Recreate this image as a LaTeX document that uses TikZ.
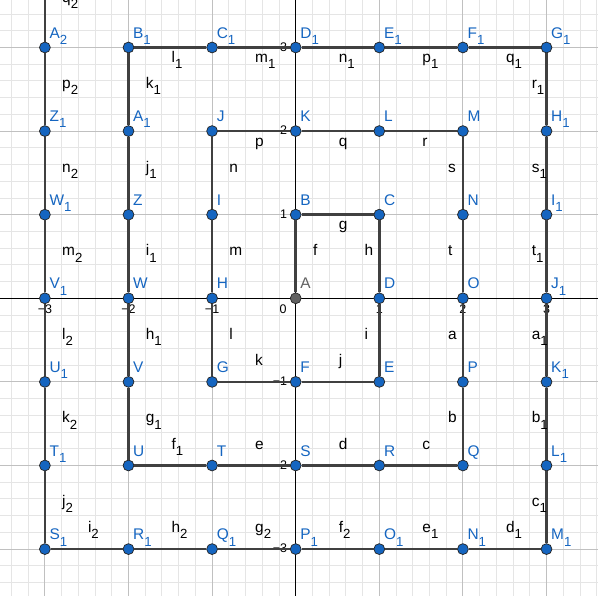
\documentclass[tikz,border=0pt]{standalone}
\usepackage{fontspec}
\setmainfont{Liberation Sans}
\usetikzlibrary{calc}
\definecolor{ggblue}{RGB}{21,101,192}
\definecolor{gggray}{RGB}{97,97,97}
\definecolor{segcol}{RGB}{64,64,64}
\definecolor{gridmaj}{RGB}{192,192,192}
\definecolor{gridmin}{RGB}{229,229,229}
\newcommand{\lowsub}[1]{\raisebox{-4.3pt}{\fontsize{9}{9}\selectfont #1}}

\begin{document}
\begin{tikzpicture}[x=2cm, y=2cm,
    every node/.style={font=\fontsize{10.5}{12}\selectfont, inner sep=0pt},
    minorgrid/.style={draw=gridmin, line width=0.6pt},
    majorgrid/.style={draw=gridmaj, line width=0.6pt},
    axis/.style={draw=black, line width=0.7pt},
    ticklabel/.style={font=\fontsize{8.5}{10}\selectfont},
    pt/.style={circle, minimum size=7.4pt, fill=ggblue, draw=black!85, line width=0.5pt},
    ptlabel/.style={anchor=base west, text=ggblue},
    seg/.style={draw=segcol, line width=1.8pt},
    seglabel/.style={anchor=base west, text=black},
    goup/.style={seglabel, xshift=10.9pt, yshift=0.5pt},
    godown/.style={seglabel, xshift=-10.9pt, yshift=0.5pt},
    goright/.style={seglabel, yshift=-10.2pt},
    goleft/.style={seglabel, yshift=11.2pt}
]
\useasboundingbox (-3.537,-3.561) rectangle (3.616,3.568);
\clip (-3.537,-3.561) rectangle (3.616,3.568);

% grid and axes
\draw[minorgrid, step=0.2] (-3.6,-3.6) grid (3.8,3.8);
\draw[majorgrid, step=1] (-4,-4) grid (4,4);
\draw[axis] (-3.6,0) -- (3.7,0);
\draw[axis] (0,-3.6) -- (0,3.6);

% tick labels
\foreach \k/\t in {-3/−3, -2/−2, -1/−1, 1/1, 2/2, 3/3} {
    \node[ticklabel, anchor=base] (xt\k) at (\k,-0.185) {\t};
    \node[ticklabel, anchor=base east] (yt\k) at (-0.1,\k-0.045) {\t};
}
\node[ticklabel, anchor=base east] (xt0) at (-0.105,-0.185) {0};

% points of the spiral
\node[pt, fill=gggray] (A) at (0,0) {};
\node[ptlabel, text=gggray] (lA) at ([xshift=3pt, yshift=6.4pt]A.center) {A};
\foreach \n/\px/\py/\t in {
    B/0/1/B, C/1/1/C, D/1/0/D, E/1/-1/E, F/0/-1/F, G/-1/-1/G, H/-1/0/H,
    I/-1/1/I, J/-1/2/J, K/0/2/K, L/1/2/L, M/2/2/M, N/2/1/N, O/2/0/O,
    P/2/-1/P, Q/2/-2/Q, R/1/-2/R, S/0/-2/S, T/-1/-2/T, U/-2/-2/U,
    V/-2/-1/V, W/-2/0/W, Z/-2/1/Z,
    A1/-2/2/{A\lowsub{1}}, B1/-2/3/{B\lowsub{1}}, C1/-1/3/{C\lowsub{1}},
    D1/0/3/{D\lowsub{1}}, E1/1/3/{E\lowsub{1}}, F1/2/3/{F\lowsub{1}},
    G1/3/3/{G\lowsub{1}}, H1/3/2/{H\lowsub{1}}, I1/3/1/{I\lowsub{1}},
    J1/3/0/{J\lowsub{1}}, K1/3/-1/{K\lowsub{1}}, L1/3/-2/{L\lowsub{1}},
    M1/3/-3/{M\lowsub{1}}, N1/2/-3/{N\lowsub{1}}, O1/1/-3/{O\lowsub{1}},
    P1/0/-3/{P\lowsub{1}}, Q1/-1/-3/{Q\lowsub{1}}, R1/-2/-3/{R\lowsub{1}},
    S1/-3/-3/{S\lowsub{1}}, T1/-3/-2/{T\lowsub{1}}, U1/-3/-1/{U\lowsub{1}},
    V1/-3/0/{V\lowsub{1}}, W1/-3/1/{W\lowsub{1}}, Z1/-3/2/{Z\lowsub{1}},
    A2/-3/3/{A\lowsub{2}}} {
    \node[pt] (\n) at (\px,\py) {};
    \node[ptlabel] (l\n) at ([xshift=3pt, yshift=6.4pt]\n.center) {\t};
}
\coordinate (B2) at (-3,4);

% segments
\foreach \a/\b/\t/\s [count=\k] in {
    A/B/f/goup, B/C/g/goright, C/D/h/godown, D/E/i/godown, E/F/j/goleft,
    F/G/k/goleft, G/H/l/goup, H/I/m/goup, I/J/n/goup, J/K/p/goright,
    K/L/q/goright, L/M/r/goright, M/N/s/godown, N/O/t/godown, O/P/a/godown,
    P/Q/b/godown, Q/R/c/goleft, R/S/d/goleft, S/T/e/goleft,
    T/U/{f\lowsub{1}}/goleft, U/V/{g\lowsub{1}}/goup, V/W/{h\lowsub{1}}/goup,
    W/Z/{i\lowsub{1}}/goup, Z/A1/{j\lowsub{1}}/goup, A1/B1/{k\lowsub{1}}/goup,
    B1/C1/{l\lowsub{1}}/goright, C1/D1/{m\lowsub{1}}/goright,
    D1/E1/{n\lowsub{1}}/goright, E1/F1/{p\lowsub{1}}/goright,
    F1/G1/{q\lowsub{1}}/goright, G1/H1/{r\lowsub{1}}/godown,
    H1/I1/{s\lowsub{1}}/godown, I1/J1/{t\lowsub{1}}/godown,
    J1/K1/{a\lowsub{1}}/godown, K1/L1/{b\lowsub{1}}/godown,
    L1/M1/{c\lowsub{1}}/godown, M1/N1/{d\lowsub{1}}/goleft,
    N1/O1/{e\lowsub{1}}/goleft, O1/P1/{f\lowsub{2}}/goleft,
    P1/Q1/{g\lowsub{2}}/goleft, Q1/R1/{h\lowsub{2}}/goleft,
    R1/S1/{i\lowsub{2}}/goleft, S1/T1/{j\lowsub{2}}/goup,
    T1/U1/{k\lowsub{2}}/goup, U1/V1/{l\lowsub{2}}/goup,
    V1/W1/{m\lowsub{2}}/goup, W1/Z1/{n\lowsub{2}}/goup,
    Z1/A2/{p\lowsub{2}}/goup, A2/B2/{q\lowsub{2}}/goup} {
    \draw[seg] (\a) -- node[\s] (seg\k) {\t} (\b);
}

\end{tikzpicture}
\end{document}
